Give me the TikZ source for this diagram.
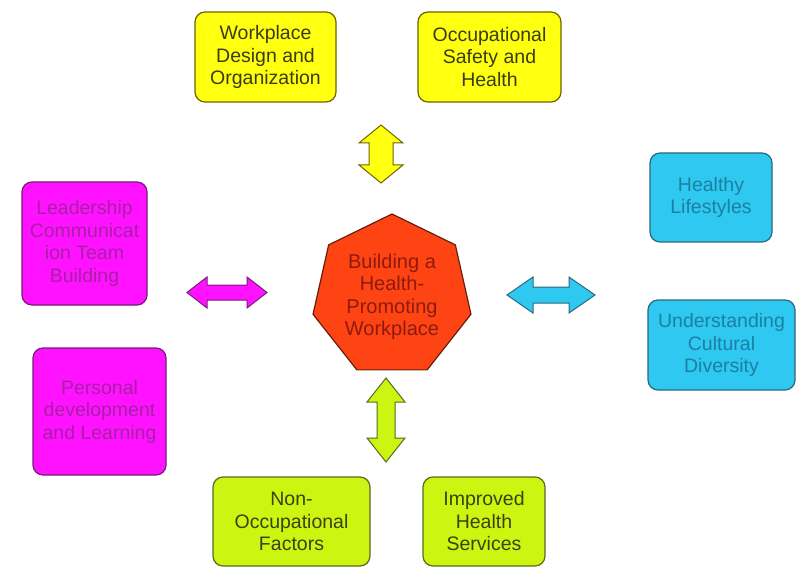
\documentclass[tikz,border=0pt]{standalone}
\usepackage{fontspec}
\setmainfont{Liberation Sans}
\begin{document}
\begin{tikzpicture}[x=1pt,y=-1pt,
  box/.style={rounded corners=10pt, line width=1.2pt, align=center, inner sep=2pt,
    font=\fontsize{19.5}{22.5}\selectfont},
  ybox/.style={box, draw=yBorder, fill=yFill, text=yText},
  mbox/.style={box, draw=mBorder, fill=mFill, text=mText},
  cbox/.style={box, draw=cBorder, fill=cFill, text=cText},
  gbox/.style={box, draw=gBorder, fill=gFill, text=gText},
  arr/.style={line width=1pt, line join=miter},
]
\definecolor{yFill}{HTML}{FFFF10}\definecolor{yBorder}{HTML}{6E6400}\definecolor{yText}{HTML}{3C3C14}
\definecolor{mFill}{HTML}{FF12FF}\definecolor{mBorder}{HTML}{7A1A7A}\definecolor{mText}{HTML}{A820A4}
\definecolor{cFill}{HTML}{2EC8F0}\definecolor{cBorder}{HTML}{2A6A80}\definecolor{cText}{HTML}{1C80A4}
\definecolor{gFill}{HTML}{CCF512}\definecolor{gBorder}{HTML}{5A6A20}\definecolor{gText}{HTML}{3E400E}
\definecolor{hFill}{HTML}{FF4414}\definecolor{hBorder}{HTML}{6A1E08}\definecolor{hText}{HTML}{8E1A10}

\useasboundingbox[fill=white] (0,0) rectangle (796,567);

% top boxes
\node[ybox, minimum width=141pt, minimum height=90pt] (design) at (265.5,57) {Workplace\\Design and\\Organization};
\node[ybox, minimum width=143pt, minimum height=90pt] (safety) at (489.5,57) {Occupational\\Safety and\\Health};

% left boxes
\node[mbox, minimum width=125pt, minimum height=123pt] (lead) at (84.5,243.5) {Leadership\\Communicat\\ion Team\\Building};
\node[mbox, minimum width=133pt, minimum height=127pt] (pers) at (99.5,411.5) {Personal\\development\\and Learning};

% right boxes
\node[cbox, minimum width=122pt, minimum height=89pt] (life) at (711,197.5) {Healthy\\Lifestyles};
\node[cbox, minimum width=147pt, minimum height=90pt] (cult) at (721.5,345) {Understanding\\Cultural\\Diversity};

% bottom boxes
\node[gbox, minimum width=157pt, minimum height=89pt] (nonocc) at (291.5,521.5) {Non-\\Occupational\\Factors};
\node[gbox, minimum width=122pt, minimum height=89pt] (serv) at (484,521.5) {Improved\\Health\\Services};

% central heptagon
\begin{scope}[shift={(392,296)}]
  \draw[line width=1.2pt, draw=hBorder, fill=hFill, line join=round]
    (-90:81 and 82) \foreach \k in {1,...,6}{ -- ({-90+\k*360/7}:81 and 82)} -- cycle;
\end{scope}
\node[align=center, text=hText, font=\fontsize{20}{22.5}\selectfont] (hub) at (392,297)
  {Building a\\Health-\\Promoting\\Workplace};

% double block arrows
% yellow, vertical
\draw[arr, draw=yBorder, fill=yFill]
  (381,125) -- (403,143) -- (393,143) -- (393,165) -- (403,165) -- (381,183)
  -- (359,165) -- (369,165) -- (369,143) -- (359,143) -- cycle;
% green, vertical
\draw[arr, draw=gBorder, fill=gFill]
  (386,378) -- (405,402) -- (395,402) -- (395,438) -- (405,438) -- (386,462)
  -- (367,438) -- (377,438) -- (377,402) -- (367,402) -- cycle;
% magenta, horizontal
\draw[arr, draw=mBorder, fill=mFill]
  (187,292.5) -- (207,277) -- (207,285) -- (247,285) -- (247,277) -- (267,292.5)
  -- (247,308) -- (247,300) -- (207,300) -- (207,308) -- cycle;
% cyan, horizontal
\draw[arr, draw=cBorder, fill=cFill]
  (507,295) -- (533,277) -- (533,287) -- (569,287) -- (569,277) -- (595,295)
  -- (569,313) -- (569,303) -- (533,303) -- (533,313) -- cycle;
\end{tikzpicture}
\end{document}
